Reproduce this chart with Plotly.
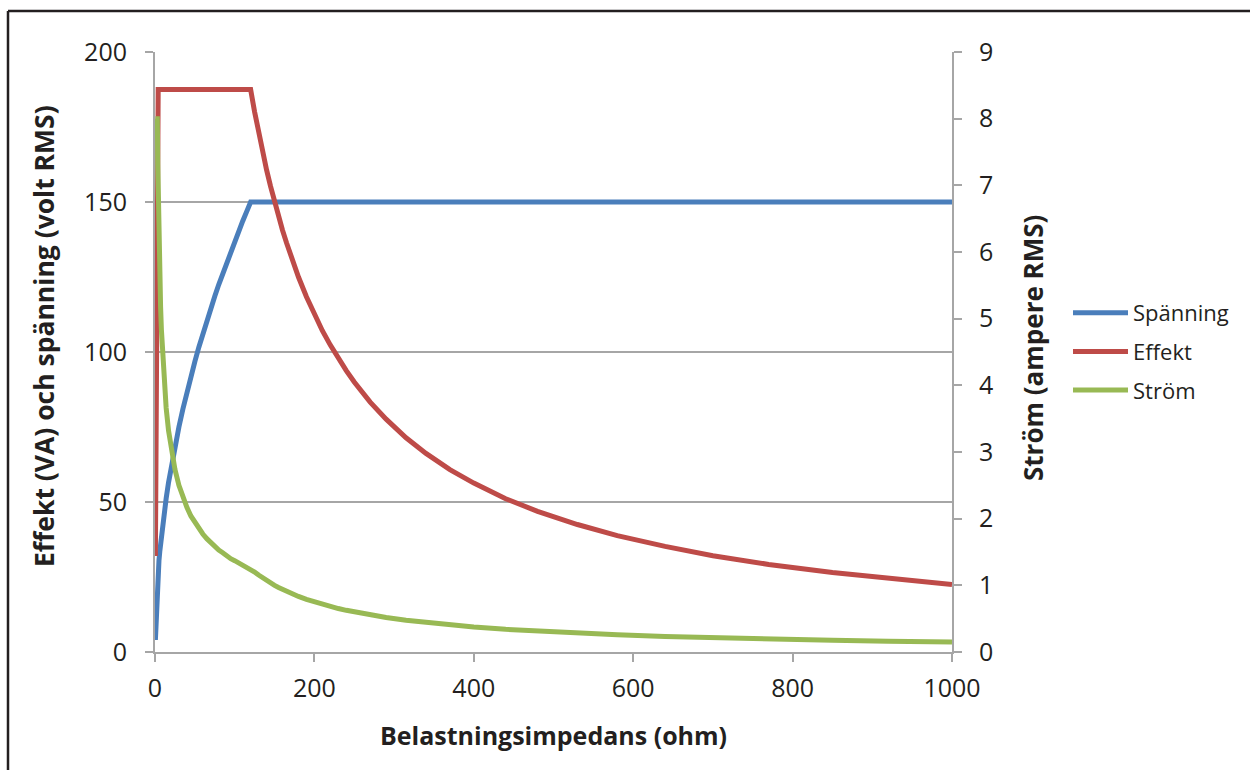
import plotly.graph_objects as go

# Load impedance (ohm) and the supply's response at each step
impedans = [0.5, 1, 2, 2.93, 3.5, 4, 5, 6, 7, 8, 10, 12, 14, 17, 20, 25, 30, 35, 40,
            45, 50, 55, 60, 65, 70, 75, 80, 85, 90, 95, 100, 105, 110, 115, 120,
            125, 130, 135, 140, 145, 150, 155, 160, 165, 170, 180, 190, 200, 210,
            220, 230, 240, 250, 270, 290, 315, 340, 370, 400, 440, 480, 530, 580,
            640, 700, 770, 850, 920, 1000]
spanning = [4, 8, 16, 23.4, 25.6, 27.4, 30.6, 33.5, 36.2, 38.7, 43.3, 47.4, 51.2,
            56.5, 61.2, 68.5, 75.0, 81.0, 86.6, 91.9, 96.8, 101.6, 106.1, 110.4,
            114.6, 118.6, 122.5, 126.2, 129.9, 133.5, 136.9, 140.3, 143.6, 146.8,
            150, 150, 150, 150, 150, 150, 150, 150, 150, 150, 150, 150, 150, 150,
            150, 150, 150, 150, 150, 150, 150, 150, 150, 150, 150, 150, 150, 150,
            150, 150, 150, 150, 150, 150, 150]
effekt = [32, 64, 128, 187.5, 187.5, 187.5, 187.5, 187.5, 187.5, 187.5, 187.5, 187.5,
          187.5, 187.5, 187.5, 187.5, 187.5, 187.5, 187.5, 187.5, 187.5, 187.5, 187.5,
          187.5, 187.5, 187.5, 187.5, 187.5, 187.5, 187.5, 187.5, 187.5, 187.5, 187.5,
          187.5, 180.0, 173.1, 166.7, 160.7, 155.2, 150.0, 145.2, 140.6, 136.4, 132.4,
          125.0, 118.4, 112.5, 107.1, 102.3, 97.8, 93.8, 90.0, 83.3, 77.6, 71.4, 66.2,
          60.8, 56.3, 51.1, 46.9, 42.5, 38.8, 35.2, 32.1, 29.2, 26.5, 24.5, 22.5]
strom = [8, 8, 8, 8, 7.32, 6.85, 6.12, 5.59, 5.18, 4.84, 4.33, 3.95, 3.66, 3.32, 3.06,
         2.74, 2.50, 2.31, 2.17, 2.04, 1.94, 1.85, 1.77, 1.70, 1.64, 1.58, 1.53, 1.49,
         1.44, 1.40, 1.37, 1.34, 1.31, 1.28, 1.25, 1.200, 1.154, 1.111, 1.071, 1.034,
         1.000, 0.968, 0.938, 0.909, 0.882, 0.833, 0.789, 0.750, 0.714, 0.682, 0.652,
         0.625, 0.600, 0.556, 0.517, 0.476, 0.441, 0.405, 0.375, 0.341, 0.313, 0.283,
         0.259, 0.234, 0.214, 0.195, 0.176, 0.163, 0.150]

x_ticks = [0, 200, 400, 600, 800, 1000]
y_ticks = [0, 50, 100, 150, 200]
y2_ticks = [0, 1, 2, 3, 4, 5, 6, 7, 8, 9]

FONT = "Open Sans"
TXT = "#231f20"
GRID = "#a6a6a6"

fig = go.Figure()
fig.add_trace(go.Scatter(x=impedans, y=spanning, name="Spänning", mode="lines",
                         legendgroup="a", line=dict(color="#4a7ebb", width=5)))
fig.add_trace(go.Scatter(x=impedans, y=effekt, name="Effekt", mode="lines",
                         legendgroup="b", line=dict(color="#be4b48", width=5)))
fig.add_trace(go.Scatter(x=impedans, y=strom, name="Ström", mode="lines",
                         legendgroup="c", line=dict(color="#98b954", width=5),
                         yaxis="y2"))

W, H = 1250, 770
L, R, T, B = 155, 298, 52, 118
pw, ph = W - L - R, H - T - B


def px(xp):
    return (xp - L) / pw


def py(yp):
    return (H - B - yp) / ph


axis_common = dict(showline=True, linecolor=GRID, linewidth=2, ticks="outside",
                   ticklen=8, tickcolor=GRID, tickwidth=2, zeroline=False,
                   tickfont=dict(size=25, color=TXT))

fig.update_layout(
    width=W, height=H,
    margin=dict(l=L, r=R, t=T, b=B),
    paper_bgcolor="white", plot_bgcolor="white",
    font=dict(family=FONT, size=23, color=TXT),
    xaxis=dict(range=[0, 1000], tickvals=x_ticks, showgrid=False,
               ticklabelstandoff=5, **axis_common),
    yaxis=dict(range=[0, 200], tickvals=y_ticks, showgrid=True,
               gridcolor=GRID, gridwidth=1.5, ticklabelstandoff=13,
               **axis_common),
    yaxis2=dict(range=[0, 9], tickvals=y2_ticks, overlaying="y", side="right",
                showgrid=False, ticklabelstandoff=12, **axis_common),
    showlegend=True,
    legend=dict(x=px(1068), y=py(292), xanchor="left", yanchor="top",
                font=dict(size=22, color=TXT), tracegroupgap=7,
                itemwidth=55, bgcolor="rgba(0,0,0,0)"),
)

# Axis titles
fig.add_annotation(text="<b>Belastningsimpedans (ohm)</b>", xref="paper", yref="paper",
                   x=px(553), y=py(735), showarrow=False, xanchor="center",
                   yanchor="middle", font=dict(size=25))
fig.add_annotation(text="<b>Effekt (VA) och spänning (volt RMS)</b>", xref="paper",
                   yref="paper", x=px(44), y=py(336), showarrow=False, textangle=-90,
                   xanchor="center", yanchor="middle", font=dict(size=26.5))
fig.add_annotation(text="<b>Ström (ampere RMS)</b>", xref="paper", yref="paper",
                   x=px(1033), y=py(348), showarrow=False, textangle=-90,
                   xanchor="center", yanchor="middle", font=dict(size=26))

# Frame around the chart (left and top edges)
frame = dict(type="line", xref="paper", yref="paper",
             line=dict(color="#231f20", width=2.5))
fig.add_shape(**frame, x0=px(8), y0=py(11), x1=px(1260), y1=py(11))
fig.add_shape(**frame, x0=px(8), y0=py(11), x1=px(8), y1=py(780))

fig.write_html("out.html")
